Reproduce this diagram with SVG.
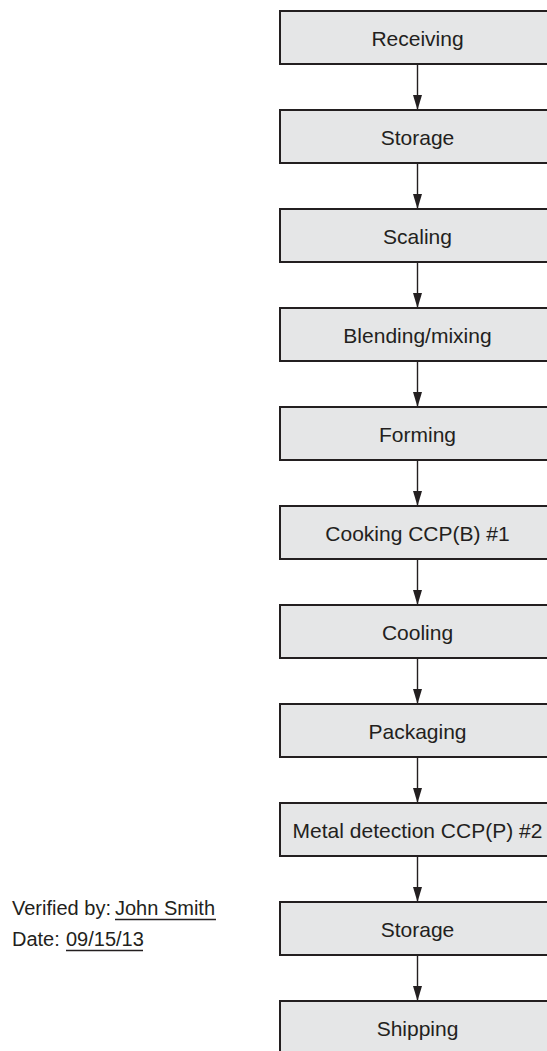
<svg xmlns="http://www.w3.org/2000/svg" width="547" height="1051" viewBox="0 0 547 1051">
<style>
.box{fill:#e5e6e7;stroke:#231f20;stroke-width:2}
.lbl{font-family:"Liberation Sans",Arial,sans-serif;font-size:21px;fill:#231f20;text-anchor:middle}
.note{font-family:"Liberation Sans",Arial,sans-serif;font-size:20px;fill:#231f20}
.edge{stroke:#231f20;stroke-width:1.4;fill:none;marker-end:url(#ah)}
.ul{stroke:#231f20;stroke-width:1.3}
</style>
<defs>
<marker id="ah" markerUnits="userSpaceOnUse" markerWidth="15" markerHeight="9" viewBox="0 0 15 9" refX="15" refY="4.5" orient="auto">
<path d="M0,0 L15,4.5 L0,9 Z" fill="#231f20"/>
</marker>
</defs>
<rect width="547" height="1051" fill="#ffffff"/>
<g id="connectors">
<line class="edge" x1="417.5" y1="64" x2="417.5" y2="110"/>
<line class="edge" x1="417.5" y1="163" x2="417.5" y2="209"/>
<line class="edge" x1="417.5" y1="262" x2="417.5" y2="308"/>
<line class="edge" x1="417.5" y1="361" x2="417.5" y2="407"/>
<line class="edge" x1="417.5" y1="460" x2="417.5" y2="506"/>
<line class="edge" x1="417.5" y1="559" x2="417.5" y2="605"/>
<line class="edge" x1="417.5" y1="658" x2="417.5" y2="704"/>
<line class="edge" x1="417.5" y1="757" x2="417.5" y2="803"/>
<line class="edge" x1="417.5" y1="856" x2="417.5" y2="902"/>
<line class="edge" x1="417.5" y1="955" x2="417.5" y2="1001"/>
</g>
<g id="n1"><rect class="box" x="280" y="11" width="276" height="53"/><text class="lbl" x="417.5" y="45.5">Receiving</text></g>
<g id="n2"><rect class="box" x="280" y="110" width="276" height="53"/><text class="lbl" x="417.5" y="144.5">Storage</text></g>
<g id="n3"><rect class="box" x="280" y="209" width="276" height="53"/><text class="lbl" x="417.5" y="243.5">Scaling</text></g>
<g id="n4"><rect class="box" x="280" y="308" width="276" height="53"/><text class="lbl" x="417.5" y="342.5">Blending/mixing</text></g>
<g id="n5"><rect class="box" x="280" y="407" width="276" height="53"/><text class="lbl" x="417.5" y="441.5">Forming</text></g>
<g id="n6"><rect class="box" x="280" y="506" width="276" height="53"/><text class="lbl" x="417.5" y="540.5">Cooking CCP(B) #1</text></g>
<g id="n7"><rect class="box" x="280" y="605" width="276" height="53"/><text class="lbl" x="417.5" y="639.5">Cooling</text></g>
<g id="n8"><rect class="box" x="280" y="704" width="276" height="53"/><text class="lbl" x="417.5" y="738.5">Packaging</text></g>
<g id="n9"><rect class="box" x="280" y="803" width="276" height="53"/><text class="lbl" x="417.5" y="837.5">Metal detection CCP(P) #2</text></g>
<g id="n10"><rect class="box" x="280" y="902" width="276" height="53"/><text class="lbl" x="417.5" y="936.5">Storage</text></g>
<g id="n11"><rect class="box" x="280" y="1001" width="276" height="53"/><text class="lbl" x="417.5" y="1035.5">Shipping</text></g>
<g id="verification">
<text class="note" x="12" y="915">Verified by:</text>
<text class="note" x="115" y="915">John Smith</text>
<line class="ul" x1="115" y1="919.5" x2="216" y2="919.5"/>
<text class="note" x="12" y="946">Date:</text>
<text class="note" x="66" y="946">09/15/13</text>
<line class="ul" x1="66" y1="950.5" x2="143" y2="950.5"/>
</g>
</svg>
